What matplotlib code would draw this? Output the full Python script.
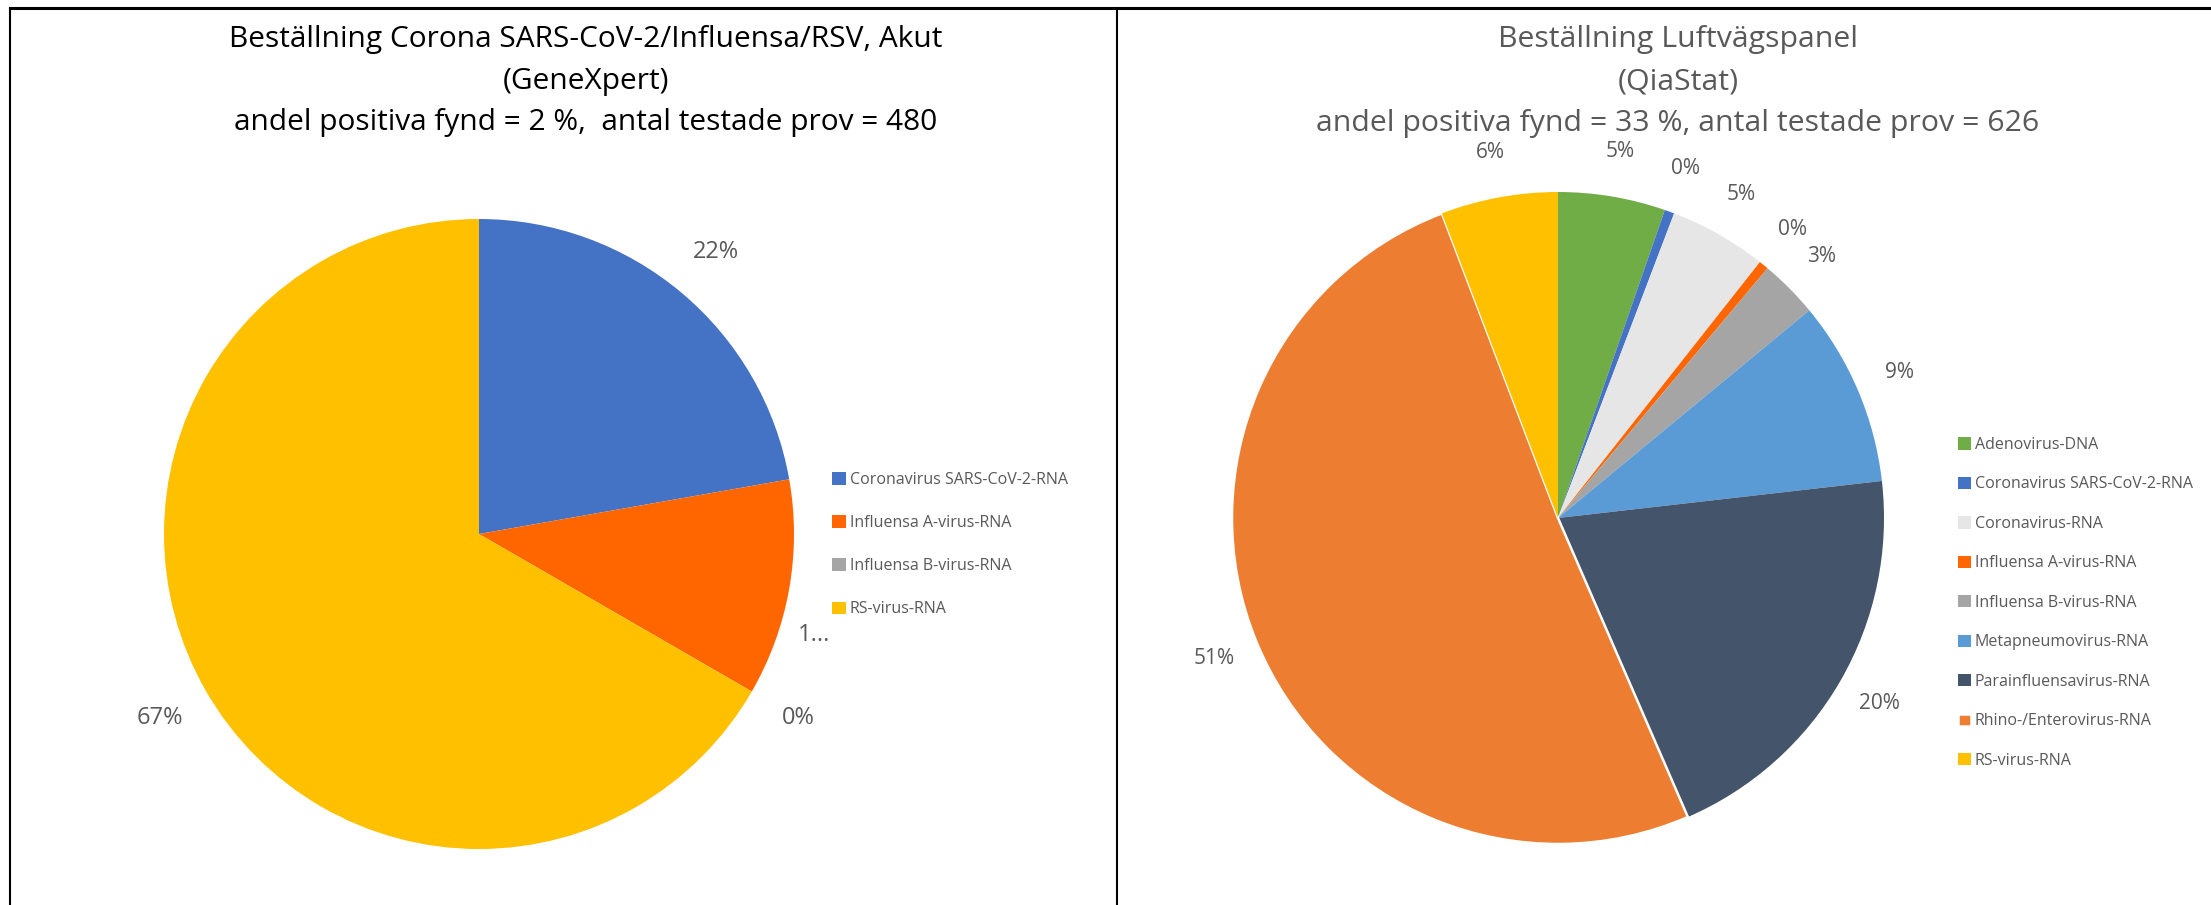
import numpy as np
import matplotlib
matplotlib.use('Agg')
import matplotlib.pyplot as plt

# Canvas size in pixels; the whole figure is drawn in one pixel-scaled axes.
W, H = 2211, 905

# Left chart: GeneXpert order
left_title = ['Beställning Corona SARS-CoV-2/Influensa/RSV, Akut',
              '(GeneXpert)',
              'andel positiva fynd = 2 %,  antal testade prov = 480']
left_categories = ['Coronavirus SARS-CoV-2-RNA', 'Influensa A-virus-RNA',
                   'Influensa B-virus-RNA', 'RS-virus-RNA']
left_counts = [2, 1, 0, 6]
left_labels = ['22%', '1...', '0%', '67%']
left_colors = ['#4472C4', '#FF6600', '#A5A5A5', '#FFC000']

# Right chart: QiaStat respiratory panel
right_title = ['Beställning Luftvägspanel',
               '(QiaStat)',
               'andel positiva fynd = 33 %, antal testade prov = 626']
right_categories = ['Adenovirus-DNA', 'Coronavirus SARS-CoV-2-RNA', 'Coronavirus-RNA',
                    'Influensa A-virus-RNA', 'Influensa B-virus-RNA', 'Metapneumovirus-RNA',
                    'Parainfluensavirus-RNA', 'Rhino-/Enterovirus-RNA', 'RS-virus-RNA']
right_counts = [11, 1, 10, 1, 6, 19, 42, 105, 12]
right_labels = ['5%', '0%', '5%', '0%', '3%', '9%', '20%', '51%', '6%']
right_colors = ['#70AD47', '#4472C4', '#E6E6E6', '#FF6600', '#A5A5A5',
                '#5B9BD5', '#44546A', '#ED7D31', '#FFC000']

plt.rcParams['font.family'] = ['Open Sans', 'DejaVu Sans']
grey = '#595959'

fig = plt.figure(figsize=(W / 100, H / 100), dpi=100)
ax = fig.add_axes([0, 0, 1, 1])


def draw_pie(counts, labels, colors, cx, cy, r, label_dist, fsize):
    wedges, texts = ax.pie(counts, labels=labels, colors=colors, startangle=90,
                           counterclock=False, center=(cx, H - cy), radius=r,
                           labeldistance=label_dist, frame=True,
                           wedgeprops=dict(linewidth=0),
                           textprops=dict(color=grey, fontsize=fsize))
    for t in texts:
        t.set_ha('center')
        t.set_va('center')
    return wedges, texts


left_wedges, left_texts = draw_pie(left_counts, left_labels, left_colors,
                                   479, 534, 315, 1.17, 17)
right_wedges, right_texts = draw_pie(right_counts, right_labels, right_colors,
                                     1558, 518, 326, 1.14, 15)
# the big Rhino slice has a thin white outline in the original
right_wedges[7].set_edgecolor('white')
right_wedges[7].set_linewidth(1.8)

# Excel pushed the truncated Influensa A label towards the lower edge of its slice
w = left_wedges[1]
ang = np.deg2rad(w.theta1 + 0.33 * (w.theta2 - w.theta1))
left_texts[1].set_position((w.center[0] + 1.11 * w.r * np.cos(ang),
                            w.center[1] + 1.11 * w.r * np.sin(ang)))

# titles
for i, line in enumerate(left_title):
    ax.text(586, H - (40 + 41.5 * i), line, ha='center', va='center',
            fontsize=21.5, color='black')
for i, line in enumerate(right_title):
    ax.text(1678, H - (40 + 42 * i), line, ha='center', va='center',
            fontsize=21.8, color=grey)

# legends
leg1 = ax.legend(left_wedges, left_categories, loc='upper left',
                 bbox_to_anchor=(832, H - 472), bbox_transform=ax.transData,
                 frameon=False, borderpad=0, borderaxespad=0, fontsize=11.5,
                 handlelength=0.85, handleheight=0.85, handletextpad=0.25,
                 labelspacing=1.7, labelcolor=grey)
ax.add_artist(leg1)
ax.legend(right_wedges, right_categories, loc='upper left',
          bbox_to_anchor=(1958, H - 437), bbox_transform=ax.transData,
          frameon=False, borderpad=0, borderaxespad=0, fontsize=11.5,
          handlelength=0.8, handleheight=0.8, handletextpad=0.25,
          labelspacing=1.47, labelcolor=grey)

# panel borders
ax.plot([10, W], [H - 8, H - 8], color='black', lw=2.2)
ax.plot([10, 10], [H - 8, 0], color='black', lw=1.5)
ax.plot([1117, 1117], [H - 8, 0], color='black', lw=1.5)

ax.set_xlim(0, W)
ax.set_ylim(0, H)
ax.set_aspect('equal')
ax.axis('off')

fig.savefig('out.png', dpi=100)
